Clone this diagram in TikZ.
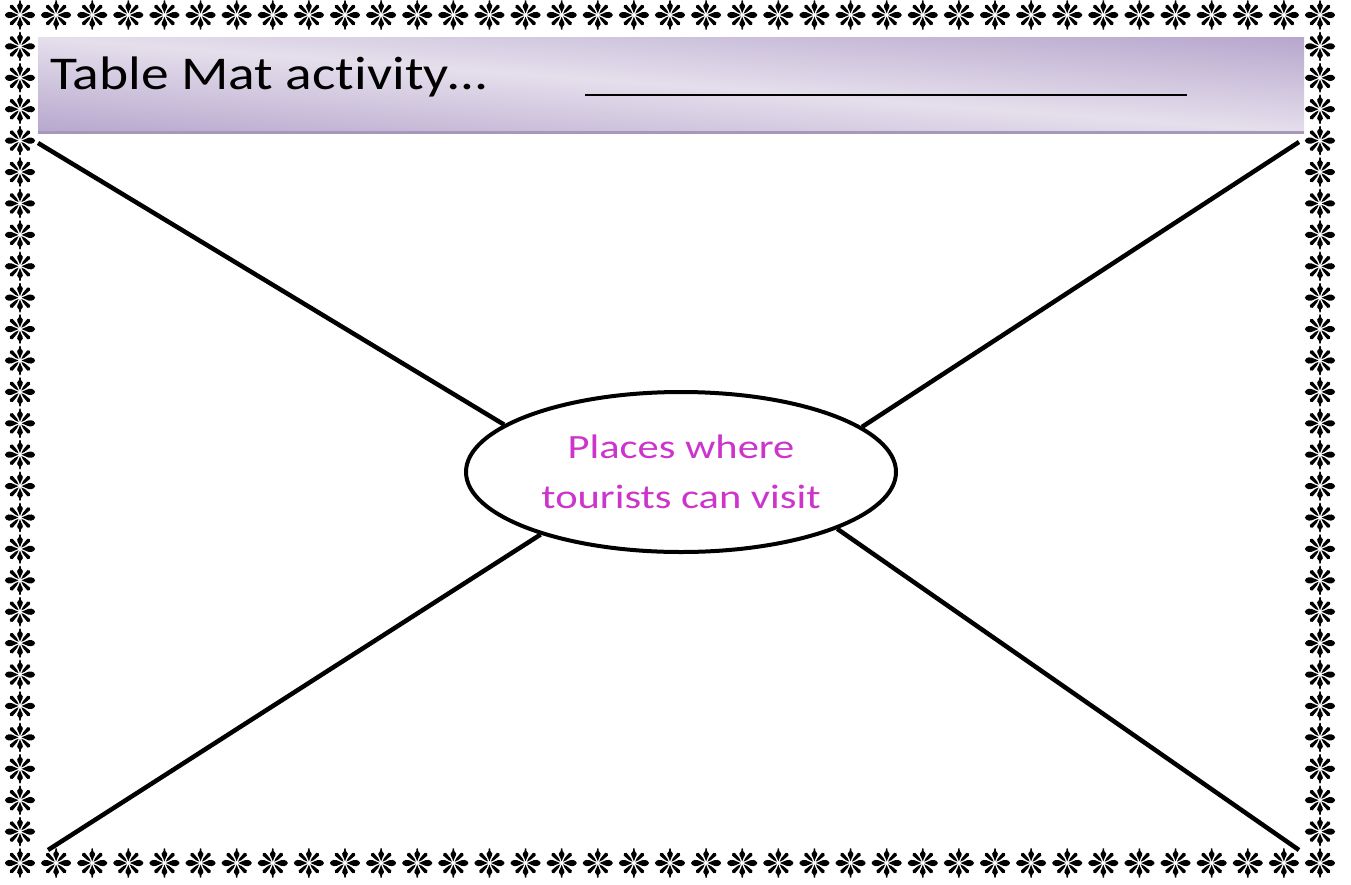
\documentclass[tikz,border=0pt]{standalone}
\usepackage{fontspec}
\setmainfont{Carlito}
\newfontfamily\titlefont[FakeStretch=1.18,Ligatures=NoCommon]{Carlito}
\newfontfamily\hubfont[FakeStretch=1.25,Ligatures=NoCommon]{Carlito}
\usetikzlibrary{shapes.geometric}
\definecolor{hdark}{RGB}{178,161,202}
\definecolor{hlight}{RGB}{229,223,236}
\definecolor{hedge}{RGB}{166,152,186}
\definecolor{hubtext}{RGB}{204,52,204}
\tikzset{
  flower/.pic={
    \begin{scope}[scale=1.08]
    \foreach \a in {0,180} {
      \fill[rotate=\a] (1.5,0) -- (5,1.5) .. controls (9,3.9) and (13,3.1) .. (14,0) .. controls (13,-3.1) and (9,-3.9) .. (5,-1.5) -- cycle;
    }
    \foreach \a in {90,270} {
      \fill[rotate=\a] (1.5,0) -- (5,1.3) .. controls (8,3.3) and (10,2.9) .. (11,0.9) -- (13.5,0.6) -- (13.5,-0.6) -- (11,-0.9) .. controls (10,-2.9) and (8,-3.3) .. (5,-1.3) -- cycle;
    }
    \foreach \a in {45,135,225,315} {
      \fill[rotate=\a] (1.8,0) -- (5,1.2) -- (11.5,1.8) -- (12.8,0) -- (11.5,-1.8) -- (5,-1.2) -- cycle;
    }
    \end{scope}
  },
  spoke/.style={line width=4.5pt, black},
  hubstyle/.style={ellipse, draw, line width=4pt, minimum width=430pt, minimum height=160pt, fill=white, inner sep=0pt, align=center, text=hubtext, font=\hubfont\fontsize{34}{50}\selectfont},
}
\begin{document}
\begin{tikzpicture}[x=1pt,y=-1pt]
\useasboundingbox (0,0) rectangle (1351,884);
\fill[white] (0,0) rectangle (1351,884);
% header band
\begin{scope}
  \clip (38,37) rectangle (1304,133);
  \begin{scope}[transform canvas={rotate around={-4.3:(671,85)}}]
    \shade[top color=hdark, bottom color=hdark, middle color=hlight] (-100,-20) rectangle (1442,190);
  \end{scope}
\end{scope}
\fill[hedge] (38,131) rectangle (1304,134);
\node[anchor=base west, inner sep=0pt, font=\titlefont\fontsize{47}{50}\selectfont] (title) at (50,89) {Table Mat activity…};
\coordinate (u1) at (585,95);
\coordinate (u2) at (1187,95);
\draw[line width=2.6pt] (u1) -- (u2);
% border
\foreach \i in {0,...,36} {
  \pic at ({20+\i*36.111},15) {flower};
  \pic at ({20+\i*36.111},863) {flower};
}
\foreach \j in {1,...,26} {
  \pic at (20,{15+\j*31.407}) {flower};
  \pic at (1320,{15+\j*31.407}) {flower};
}
% hub
\node[hubstyle] (hub) at (681,472) {Places where\\tourists can visit};
\coordinate (c1) at (38,143);
\coordinate (c2) at (1299,142);
\coordinate (c3) at (48,850);
\coordinate (c4) at (1299,850);
\draw[spoke] (c1) -- (hub.165.6);
\draw[spoke] (c2) -- (hub.14.1);
\draw[spoke] (c3) -- (hub.204.1);
\draw[spoke] (c4) -- (hub.340.4);
\end{tikzpicture}
\end{document}
